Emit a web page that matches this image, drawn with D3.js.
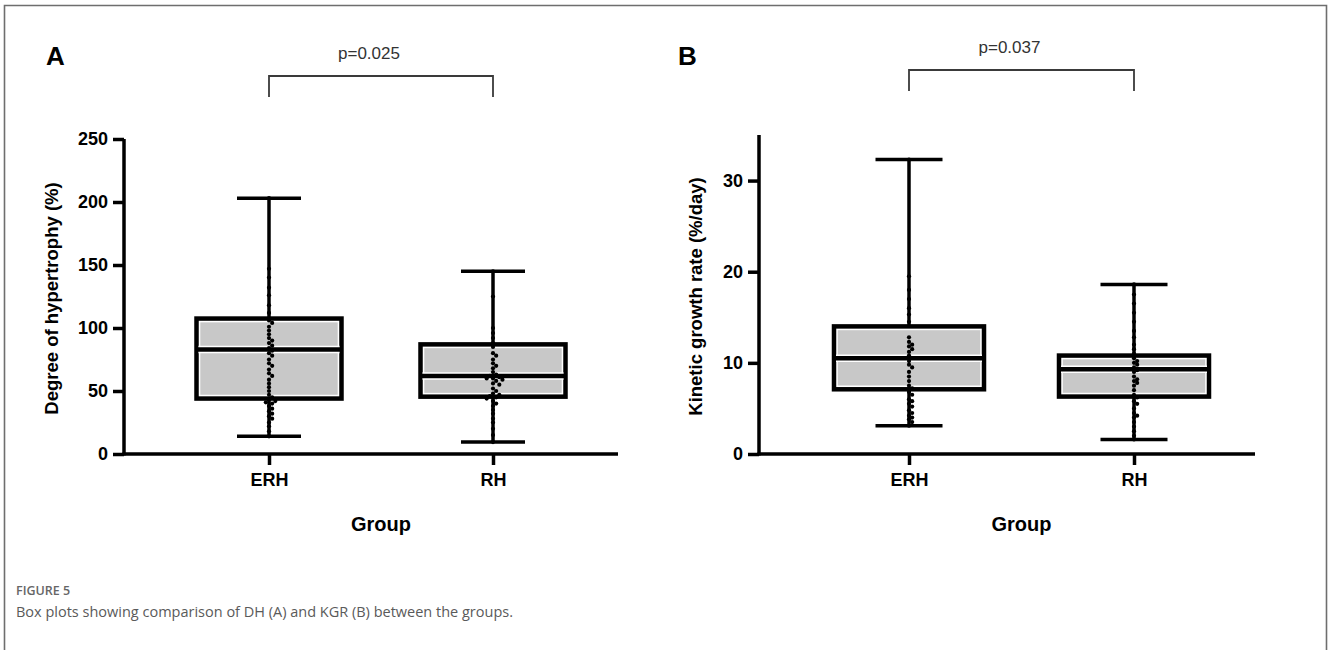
<!DOCTYPE html>
<html>
<head>
<meta charset="utf-8">
<script src="https://cdn.jsdelivr.net/npm/d3@7"></script>
<style>
  body { margin: 0; background: #fff; }
</style>
</head>
<body>
<script>
// groups + tick labels
const groups = ["ERH", "RH"];
const dhTicks = [0, 50, 100, 150, 200, 250];
const kgrTicks = [0, 10, 20, 30];

// box stats (ERH, RH)
const dhMin = [14, 9.5];
const dhQ1 = [44, 45.5];
const dhMedian = [83, 62];
const dhQ3 = [107.5, 87];
const dhMax = [203, 145];

const kgrMin = [3.1, 1.6];
const kgrQ1 = [7.1, 6.3];
const kgrMedian = [10.5, 9.3];
const kgrQ3 = [14.0, 10.8];
const kgrMax = [32.3, 18.6];

// individual points (estimated)
const dhErh = [203, 147, 140, 132, 126, 118, 112, 106, 104, 101, 98, 95, 92, 90, 88, 86, 84, 82, 80, 78, 75, 72,
  70, 67, 64, 62, 59, 56, 53, 50, 47, 45, 43, 42, 41, 40, 38, 36, 34, 32, 30, 28, 25, 22, 18, 14];
const dhRh = [145, 125, 100, 96, 92, 88, 85, 80, 78, 75, 72, 70, 68, 65, 63, 62, 61, 60, 60, 59, 58, 56, 55, 52,
  50, 48, 47, 46, 45, 44, 42, 40, 38, 35, 32, 28, 25, 20, 15, 9.5];
const kgrErh = [32.3, 19.5, 18, 17, 16, 15.3, 14.5, 12.8, 12.3, 12.0, 11.8, 11.5, 11.2, 10.8, 10.2, 9.8, 9.5, 9.0,
  8.5, 8.0, 7.5, 7.2, 6.8, 6.5, 6.0, 5.8, 5.5, 5.2, 4.8, 4.5, 4.2, 4.0, 3.8, 3.5, 3.1];
const kgrRh = [18.6, 17.5, 16.5, 15.5, 14.5, 13.5, 12.8, 12.0, 11.5, 11.0, 10.5, 10.2, 10.0, 9.8, 9.5, 9.2, 9.0,
  8.5, 8.2, 8.0, 7.8, 7.5, 7.0, 6.5, 6.2, 5.8, 5.5, 5.0, 4.5, 4.2, 4.0, 3.5, 3.0, 2.5, 2.0, 1.6];

const pLabels = ["p=0.025", "p=0.037"];
const panelLetters = ["A", "B"];
const yTitles = ["Degree of hypertrophy (%)", "Kinetic growth rate (%/day)"];

const W = 1328, H = 650;
const FONT = "'Liberation Sans', Arial, sans-serif";

const svg = d3.select("body").append("svg")
  .attr("width", W)
  .attr("height", H);

// frame
svg.append("path")
  .attr("d", `M4.5,${H} V5.5 H1326.5 V${H}`)
  .attr("fill", "none")
  .attr("stroke", "#6e6e6e")
  .attr("stroke-width", 1.6);

function beeswarm(values, y, r) {
  const placed = [];
  const steps = [0, 1, -1, 2, -2, 3, -3, 4, -4];
  const sorted = values.map(v => ({ v, py: y(v) })).sort((a, b) => a.py - b.py);
  sorted.forEach(p => {
    for (const s of steps) {
      const px = s * r * 1.5;
      const hit = placed.some(q => Math.hypot(q.px - px, q.py - p.py) < r * 1.7);
      if (!hit) { p.px = px; break; }
    }
    if (p.px === undefined) p.px = 0;
    placed.push(p);
  });
  return placed;
}

function panel(opt) {
  const g = svg.append("g").attr("transform", `translate(${opt.left},0)`);

  const y = d3.scaleLinear().domain(opt.domain).range([454, opt.top]);
  const x = d3.scalePoint().domain(groups).range([opt.firstX, opt.firstX + opt.spacing]);

  // y axis
  const yAxis = g.append("g")
    .call(d3.axisLeft(y).tickValues(opt.ticks).tickSize(11).tickPadding(5).tickSizeOuter(0));
  yAxis.select(".domain").attr("stroke-width", 3.5).attr("d", `M0,${y(opt.domain[1])}V${y(0) + 1.5}`);
  yAxis.selectAll(".tick line").attr("stroke-width", 3.5);
  yAxis.selectAll(".tick text")
    .attr("font-family", FONT).attr("font-weight", "bold").attr("font-size", 18).attr("fill", "#000");

  // x axis
  const xAxis = g.append("g").attr("transform", "translate(0,454)")
    .call(d3.axisBottom(x).tickSize(11).tickPadding(8).tickSizeOuter(0));
  xAxis.select(".domain").attr("stroke-width", 3.5).attr("d", `M-1.5,0H${opt.width}`);
  xAxis.selectAll(".tick line").attr("stroke-width", 3.5);
  xAxis.selectAll(".tick text")
    .attr("font-family", FONT).attr("font-weight", "bold").attr("font-size", 18).attr("fill", "#000");

  // boxes
  groups.forEach((grp, i) => {
    const cx = x(grp);
    const bw = opt.boxW, cw = opt.capW;
    const yq1 = y(opt.q1[i]), yq3 = y(opt.q3[i]), ymed = y(opt.med[i]);

    // whiskers
    g.append("line").attr("x1", cx).attr("x2", cx).attr("y1", y(opt.max[i])).attr("y2", yq3)
      .attr("stroke", "#000").attr("stroke-width", 3.5);
    g.append("line").attr("x1", cx).attr("x2", cx).attr("y1", yq1).attr("y2", y(opt.min[i]))
      .attr("stroke", "#000").attr("stroke-width", 3.5);
    [opt.max[i], opt.min[i]].forEach(v => {
      g.append("line").attr("x1", cx - cw / 2).attr("x2", cx + cw / 2).attr("y1", y(v)).attr("y2", y(v))
        .attr("stroke", "#000").attr("stroke-width", 3.5);
    });

    // box with white seam + gray fill
    g.append("rect").attr("x", cx - bw / 2).attr("y", yq3).attr("width", bw).attr("height", yq1 - yq3)
      .attr("fill", "#fff").attr("stroke", "#000").attr("stroke-width", 4.5);
    g.append("rect").attr("x", cx - bw / 2 + 3.8).attr("y", yq3 + 3.8)
      .attr("width", bw - 7.6).attr("height", yq1 - yq3 - 7.6)
      .attr("fill", "#c8c8c8");
    g.append("line").attr("x1", cx - bw / 2 + 2).attr("x2", cx + bw / 2 - 2).attr("y1", ymed).attr("y2", ymed)
      .attr("stroke", "#fff").attr("stroke-width", 7.5);
    g.append("line").attr("x1", cx - bw / 2).attr("x2", cx + bw / 2).attr("y1", ymed).attr("y2", ymed)
      .attr("stroke", "#000").attr("stroke-width", 4.5);

    // points
    const pts = beeswarm(opt.points[i], y, 2.1);
    g.append("g").selectAll("circle").data(pts).join("circle")
      .attr("cx", d => cx + d.px)
      .attr("cy", d => d.py)
      .attr("r", 2.1)
      .attr("fill", "#000");
  });

  // axis titles
  g.append("text")
    .attr("transform", `translate(${opt.titleX},${(454 + opt.top) / 2 + 2}) rotate(-90)`)
    .attr("text-anchor", "middle")
    .attr("font-family", FONT).attr("font-weight", "bold").attr("font-size", 18.5)
    .text(opt.yTitle);
  g.append("text")
    .attr("x", (x(groups[0]) + x(groups[1])) / 2)
    .attr("y", 531)
    .attr("text-anchor", "middle")
    .attr("font-family", FONT).attr("font-weight", "bold").attr("font-size", 20)
    .text("Group");

  // significance bracket
  const bx1 = x(groups[0]), bx2 = x(groups[1]);
  g.append("path")
    .attr("d", `M${bx1},${opt.bracketY + 21}V${opt.bracketY}H${bx2}V${opt.bracketY + 21}`)
    .attr("fill", "none").attr("stroke", "#3a3a3a").attr("stroke-width", 1.8);
  g.append("text")
    .attr("x", (bx1 + bx2) / 2 - 12)
    .attr("y", opt.bracketY - 17)
    .attr("text-anchor", "middle")
    .attr("font-family", FONT).attr("font-size", 17).attr("fill", "#333")
    .text(opt.pLabel);

  // panel letter
  g.append("text")
    .attr("x", opt.letterX)
    .attr("y", 65)
    .attr("font-family", FONT).attr("font-weight", "bold").attr("font-size", 26)
    .text(opt.letter);
}

panel({
  left: 124, top: 139, domain: [0, 250], ticks: dhTicks, width: 494,
  firstX: 145, spacing: 224, boxW: 145, capW: 64,
  min: dhMin, q1: dhQ1, med: dhMedian, q3: dhQ3, max: dhMax,
  points: [dhErh, dhRh], yTitle: yTitles[0], titleX: -66,
  bracketY: 76, pLabel: pLabels[0], letter: panelLetters[0], letterX: -78
});

panel({
  left: 759, top: 135, domain: [0, 35], ticks: kgrTicks, width: 496,
  firstX: 150, spacing: 225, boxW: 150, capW: 67,
  min: kgrMin, q1: kgrQ1, med: kgrMedian, q3: kgrQ3, max: kgrMax,
  points: [kgrErh, kgrRh], yTitle: yTitles[1], titleX: -57,
  bracketY: 70, pLabel: pLabels[1], letter: panelLetters[1], letterX: -81
});

// caption
svg.append("text")
  .attr("x", 16).attr("y", 595)
  .attr("font-family", "'Open Sans', sans-serif").attr("font-weight", 600).attr("font-size", 12.5)
  .attr("fill", "#666")
  .text("FIGURE 5");
svg.append("text")
  .attr("x", 16).attr("y", 617)
  .attr("font-family", "'Open Sans', sans-serif").attr("font-size", 14.5)
  .attr("fill", "#5a5a5a")
  .text("Box plots showing comparison of DH (A) and KGR (B) between the groups.");
</script>
</body>
</html>
